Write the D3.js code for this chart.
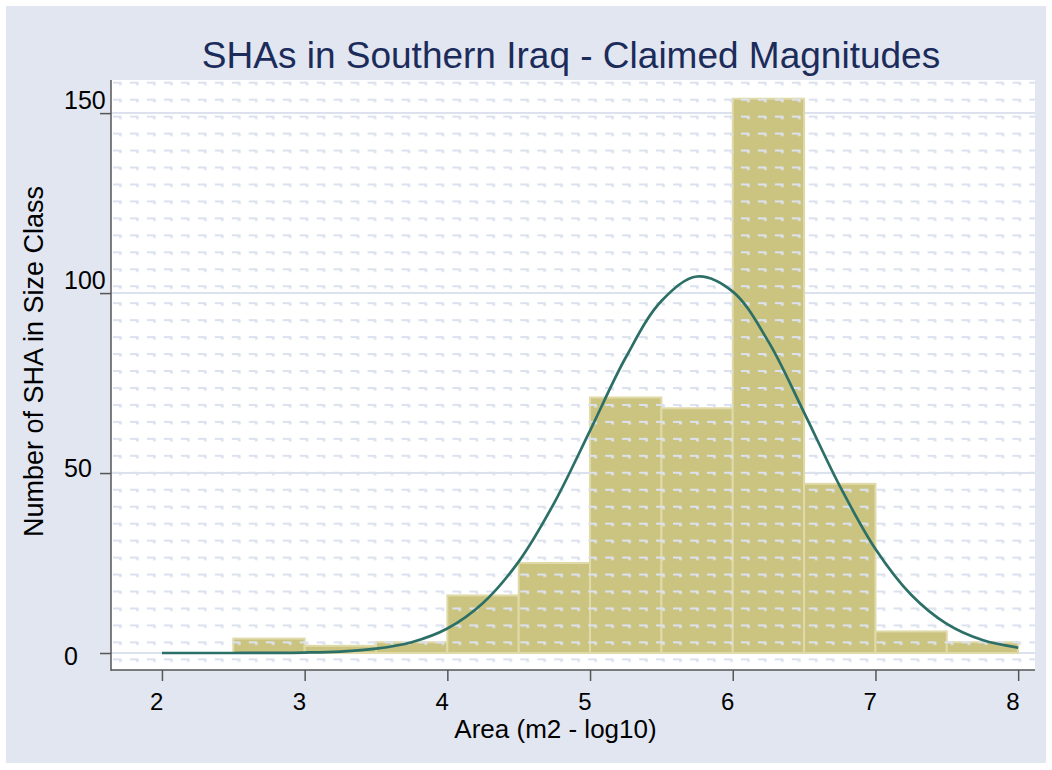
<!DOCTYPE html>
<html>
<head>
<meta charset="utf-8">
<script src="https://cdn.jsdelivr.net/npm/d3@7"></script>
<style>
  html, body { margin: 0; padding: 0; background: #ffffff; }
  svg { display: block; }
  text { font-family: "Liberation Sans", Arial, Helvetica, sans-serif; }
</style>
</head>
<body>
<svg id="chart" width="1052" height="770"></svg>
<script>
// ---- data ----
const binStart = [2.5, 3.0, 3.5, 4.0, 4.5, 5.0, 5.5, 6.0, 6.5, 7.0, 7.5];
const binWidth = 0.5;
const binCount = [4, 2, 3, 16, 25, 71, 68, 154, 47, 6, 3];
const curveX = [2, 2.25, 2.5, 2.75, 3, 3.25, 3.5, 3.75, 4, 4.25, 4.5, 4.75, 5, 5.25, 5.5, 5.75, 6, 6.25, 6.5, 6.75, 7, 7.25, 7.5, 7.75, 8];
const curveY = [0, 0, 0.01, 0.04, 0.13, 0.41, 1.2, 3.0, 6.8, 13.9, 25.4, 41.8, 61.8, 82.1, 97.8, 104.6, 100.4, 86.5, 66.8, 46.4, 28.9, 16.2, 8.1, 3.6, 1.5];
const xTicks = [2, 3, 4, 5, 6, 7, 8];
const yTicks = [0, 50, 100, 150];
const titleText = "SHAs in Southern Iraq - Claimed Magnitudes";
const xTitle = "Area (m2 - log10)";
const yTitle = "Number of SHA in Size Class";

// ---- layout ----
const W = 1052, H = 770;
const plot = { left: 111, right: 1035, top: 80, bottom: 670 };

const svg = d3.select("#chart");

// outer region
svg.append("rect").attr("x", 0).attr("y", 0).attr("width", W).attr("height", H).attr("fill", "#ffffff");
svg.append("rect").attr("x", 6).attr("y", 6).attr("width", W - 12).attr("height", H - 13).attr("fill", "#e1e6f1");

const x = d3.scaleLinear().domain([1.643, 8.118]).range([plot.left, plot.right]);
const y = d3.scaleLinear().domain([-4.72, 159.2]).range([plot.bottom, plot.top]);

// pattern of small dash marks
const defs = svg.append("defs");
const pat = defs.append("pattern")
  .attr("id", "marks")
  .attr("patternUnits", "userSpaceOnUse")
  .attr("x", 113).attr("y", 81.7)
  .attr("width", 16.97).attr("height", 16.96);
pat.append("rect").attr("x", 0).attr("y", 0).attr("width", 8.5).attr("height", 2).attr("fill", "#dce1ee");
pat.append("rect").attr("x", 6).attr("y", 1.5).attr("width", 3).attr("height", 2).attr("fill", "#dce1ee");
defs.append("clipPath").attr("id", "plotclip")
  .append("rect").attr("x", plot.left).attr("y", plot.top)
  .attr("width", plot.right - plot.left).attr("height", plot.bottom - plot.top);

// plot region
svg.append("rect")
  .attr("x", plot.left).attr("y", plot.top)
  .attr("width", plot.right - plot.left).attr("height", plot.bottom - plot.top)
  .attr("fill", "#ffffff");

// gridlines
svg.append("g").selectAll("line").data(yTicks).join("line")
  .attr("x1", plot.left).attr("x2", plot.right)
  .attr("y1", d => y(d)).attr("y2", d => y(d))
  .attr("stroke", "#dce1ee").attr("stroke-width", 2);

// bars
const bars = binStart.map((s, i) => ({ x0: s, x1: s + binWidth, n: binCount[i] }));
svg.append("g").selectAll("rect").data(bars).join("rect")
  .attr("x", d => x(d.x0))
  .attr("y", d => y(d.n))
  .attr("width", d => x(d.x1) - x(d.x0))
  .attr("height", d => y(0) - y(d.n))
  .attr("fill", "#cbc380")
  .attr("stroke", "#e0daa8")
  .attr("stroke-width", 2);

// mark overlay
svg.append("rect")
  .attr("x", plot.left + 1).attr("y", plot.top)
  .attr("width", plot.right - plot.left - 1).attr("height", plot.bottom - plot.top - 1)
  .attr("fill", "url(#marks)");

// normal curve
const pts = curveX.map((v, i) => [v, curveY[i]]);
svg.append("path")
  .datum(pts)
  .attr("clip-path", "url(#plotclip)")
  .attr("d", d3.line().x(d => x(d[0])).y(d => y(d[1])).curve(d3.curveCatmullRom))
  .attr("fill", "none")
  .attr("stroke", "#2b6f66")
  .attr("stroke-width", 2.7);

// axes
const axisColor = "#555555";
const yAxis = svg.append("g").attr("transform", `translate(${plot.left},0)`)
  .call(d3.axisLeft(y).tickValues(yTicks).tickSize(11).tickFormat(""));
yAxis.select(".domain").remove();
yAxis.selectAll(".tick line").attr("stroke", axisColor).attr("stroke-width", 1.5);
yAxis.selectAll(".tick").append("text")
  .attr("x", 64 - plot.left)
  .attr("dy", d => (10 - 8 * String(d).length) + 9)
  .attr("text-anchor", "start")
  .attr("fill", "#000")
  .attr("font-size", 25)
  .text(d => d);

const xAxis = svg.append("g").attr("transform", `translate(0,${plot.bottom})`)
  .call(d3.axisBottom(x).tickValues(xTicks).tickSize(11).tickFormat(""));
xAxis.select(".domain").remove();
xAxis.selectAll(".tick line").attr("stroke", axisColor).attr("stroke-width", 1.5);
xAxis.selectAll(".tick").append("text")
  .attr("x", 1)
  .attr("y", 40)
  .attr("text-anchor", "end")
  .attr("fill", "#000")
  .attr("font-size", 24)
  .text(d => d);

// axis lines
svg.append("line").attr("x1", plot.left).attr("x2", plot.left)
  .attr("y1", plot.top).attr("y2", plot.bottom + 0.75)
  .attr("stroke", axisColor).attr("stroke-width", 1.5);
svg.append("line").attr("x1", plot.left).attr("x2", plot.right)
  .attr("y1", plot.bottom).attr("y2", plot.bottom)
  .attr("stroke", axisColor).attr("stroke-width", 1.5);

// titles
svg.append("text")
  .attr("x", 571).attr("y", 68)
  .attr("text-anchor", "middle")
  .attr("fill", "#1c2c5a")
  .attr("font-size", 37)
  .text(titleText);

svg.append("text")
  .attr("x", 555.5).attr("y", 737.5)
  .attr("text-anchor", "middle")
  .attr("fill", "#000")
  .attr("font-size", 26)
  .text(xTitle);

svg.append("text")
  .attr("transform", "translate(43,361.5) rotate(-90)")
  .attr("text-anchor", "middle")
  .attr("fill", "#000")
  .attr("font-size", 27)
  .text(yTitle);
</script>
</body>
</html>
